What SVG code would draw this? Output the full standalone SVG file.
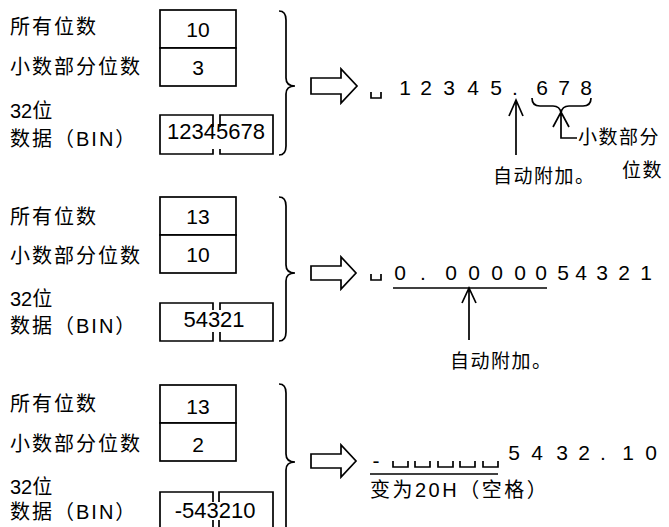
<svg xmlns="http://www.w3.org/2000/svg" width="669" height="527" viewBox="0 0 669 527">
<style>
text{font-family:"Liberation Sans","Noto Sans CJK SC",sans-serif;fill:#000}
.lbl{font-size:20px;letter-spacing:2px}
.lbl0{font-size:20px}
.num{font-size:21px;text-anchor:middle}
.big{font-size:22px;text-anchor:middle}
.out{font-size:21px;text-anchor:middle}
.note{font-size:19px;letter-spacing:1.5px}
.note2{font-size:20px;letter-spacing:2.5px}
.ln{fill:none;stroke:#000;stroke-width:1.7}
.box{fill:#fff;stroke:#000;stroke-width:1.7}
</style>
<rect width="669" height="527" fill="#fff"/>

<g id="panel1">
<text class="lbl" x="10" y="34">所有位数</text>
<text class="lbl" x="10" y="74">小数部分位数</text>
<text class="lbl0" x="10" y="118">32位</text>
<text class="lbl" x="10" y="146">数据（BIN）</text>
<rect class="box" x="160" y="10" width="76" height="38"/>
<rect class="box" x="160" y="48" width="76" height="38"/>
<text class="num" x="198" y="37">10</text>
<text class="num" x="198" y="75">3</text>
<path class="ln" d="M213,127 V115 H160 V154 H213 V149 M220,127 V115 H273 V154 H220 V149"/>
<text class="big" x="216" y="139">12345678</text>
</g>

<g id="panel2">
<text class="lbl" x="10" y="224">所有位数</text>
<text class="lbl" x="10" y="263">小数部分位数</text>
<text class="lbl0" x="10" y="306">32位</text>
<text class="lbl" x="10" y="333">数据（BIN）</text>
<rect class="box" x="160" y="197" width="76" height="38"/>
<rect class="box" x="160" y="235" width="76" height="38"/>
<text class="num" x="198" y="224">13</text>
<text class="num" x="198" y="262">10</text>
<path class="ln" d="M213,310 V303 H160 V341 H213 V332 M220,310 V303 H273 V341 H220 V332"/>
<text class="big" x="214" y="327">54321</text>
</g>

<g id="panel3">
<text class="lbl" x="10" y="411">所有位数</text>
<text class="lbl" x="10" y="451">小数部分位数</text>
<text class="lbl0" x="10" y="494">32位</text>
<text class="lbl" x="10" y="519">数据（BIN）</text>
<rect class="box" x="160" y="385" width="76" height="38"/>
<rect class="box" x="160" y="423" width="76" height="38"/>
<text class="num" x="198" y="414">13</text>
<text class="num" x="198" y="452">2</text>
<path class="ln" d="M213,502 V492 H160 V530 M213,520 V530 M219,502 V492 H273 V530 M219,520 V530"/>
<text class="big" x="215" y="518">-543210</text>
</g>

<g id="connectors">
<path class="ln" d="M279,11 Q286,11 286,20 V78 Q286,86 295,86 Q286,86 286,94 V146 Q286,155 279,155"/>
<path class="ln" d="M279,197 Q286,197 286,206 V265 Q286,273 295,273 Q286,273 286,281 V332 Q286,341 279,341"/>
<path class="ln" d="M279,384 Q286,384 286,393 V454 Q286,462 295,462 Q286,462 286,470 V540"/>
<path class="ln" d="M311,78 H341 V69 L357,86 L341,103 V94 H311 Z"/>
<path class="ln" d="M311,266 H341 V257 L356,273 L341,289 V280 H311 Z"/>
<path class="ln" d="M311,454 H341 V445 L356,461 L341,477 V468 H311 Z"/>
<path class="ln" d="M532,98 Q532,106 540,106 H553 Q560,106 561,113 Q562,106 569,106 H583 Q591,106 591,98"/>
<path class="ln" d="M553,127 L561,112 L569,127 M561,112 V138 H577"/>
<path class="ln" d="M509,116 L516,100 L523,116 M516,100 V155"/>
<path class="ln" d="M393,288 H547"/>
<path class="ln" d="M462,303 L469,288 L476,303 M469,288 V340"/>
<path class="ln" d="M370,474 H498"/>
</g>

<g id="out1">
<path class="ln" d="M371,92 V98 H381 V92"/>
<text class="out" x="405 426 449 473 496 515 542 564 586" y="95">12345.678</text>
<text class="note" x="578" y="144">小数部分</text>
<text class="note" x="622" y="177">位数</text>
<text class="note" x="493" y="183">自动附加。</text>
</g>

<g id="out2">
<path class="ln" d="M371,274 V280 H381 V274"/>
<text class="out" x="400 423 451 474 497 520 541 563 581 602 624 646" y="280">0.0000054321</text>
<text class="note" x="450" y="368">自动附加。</text>
</g>

<g id="out3">
<text class="out" x="376" y="468">-</text>
<path class="ln" d="M393,461 V467 H408 V461 M415,461 V467 H430 V461 M438,461 V467 H453 V461 M460,461 V467 H475 V461 M483,461 V467 H498 V461"/>
<text class="out" x="514 537 562 584 603 628 651" y="460">5432.10</text>
<text class="note2" x="370" y="497">变为20H（空格）</text>
</g>
</svg>
